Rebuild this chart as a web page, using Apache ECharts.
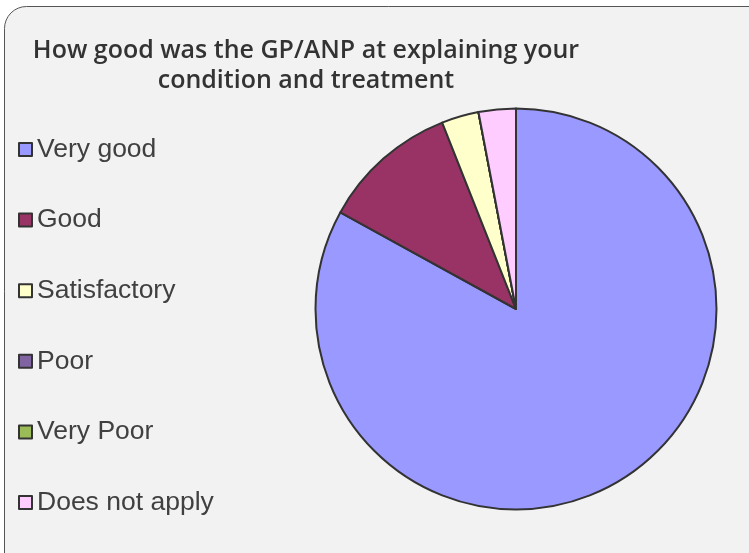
<!DOCTYPE html>
<html>
<head>
<meta charset="utf-8">
<script src="https://cdn.jsdelivr.net/npm/echarts@6/dist/echarts.min.js"></script>
<style>
  html, body { margin: 0; padding: 0; background: #fff; }
  #chart { width: 749px; height: 553px; }
</style>
</head>
<body>
<div id="chart"></div>
<script>
// 饼图: GP/ANP 解释病情与治疗的评价 (百分比, 从图上读出)
const categories = ['Very good', 'Good', 'Satisfactory', 'Poor', 'Very Poor', 'Does not apply']
const values = [83, 11, 3, 0, 0, 3]
const colors = ['#9999FF', '#993366', '#FFFFCC', '#8064A2', '#9BBB59', '#FFCCFF']
const titleLines = ['How good was the GP/ANP at explaining your', 'condition and treatment']

const chart = echarts.init(document.getElementById('chart'))

chart.setOption({
  animation: false,
  graphic: [
    {
      type: 'rect', z: -10, silent: true,
      shape: { x: 4.5, y: 6.5, width: 770, height: 570, r: 22 },
      style: { fill: '#F2F2F2', stroke: '#555', lineWidth: 1 }
    }
  ],
  title: {
    text: titleLines.join('\n'),
    left: 306, top: 36, textAlign: 'center', padding: 0,
    textStyle: {
      fontFamily: '"Open Sans", "Liberation Sans", Arial, sans-serif',
      fontSize: 25, fontWeight: 600, color: '#333', lineHeight: 30
    }
  },
  legend: {
    orient: 'vertical', left: 18, top: 136, padding: 0,
    itemWidth: 13, itemHeight: 13, itemGap: 43.6,
    selectedMode: false, icon: 'rect',
    data: categories,
    itemStyle: { borderColor: '#333', borderWidth: 2 },
    textStyle: {
      fontFamily: '"Liberation Sans", Arial, sans-serif',
      fontSize: 26.5, lineHeight: 25, color: '#404040'
    }
  },
  series: [{
    type: 'pie',
    center: [516, 309], radius: 200.5,
    startAngle: 90, clockwise: true,
    label: { show: false }, labelLine: { show: false },
    emphasis: { disabled: true },
    itemStyle: { borderColor: '#333', borderWidth: 2 },
    data: categories.map((name, i) => ({ name, value: values[i], itemStyle: { color: colors[i] } }))
  }]
})
</script>
</body>
</html>
